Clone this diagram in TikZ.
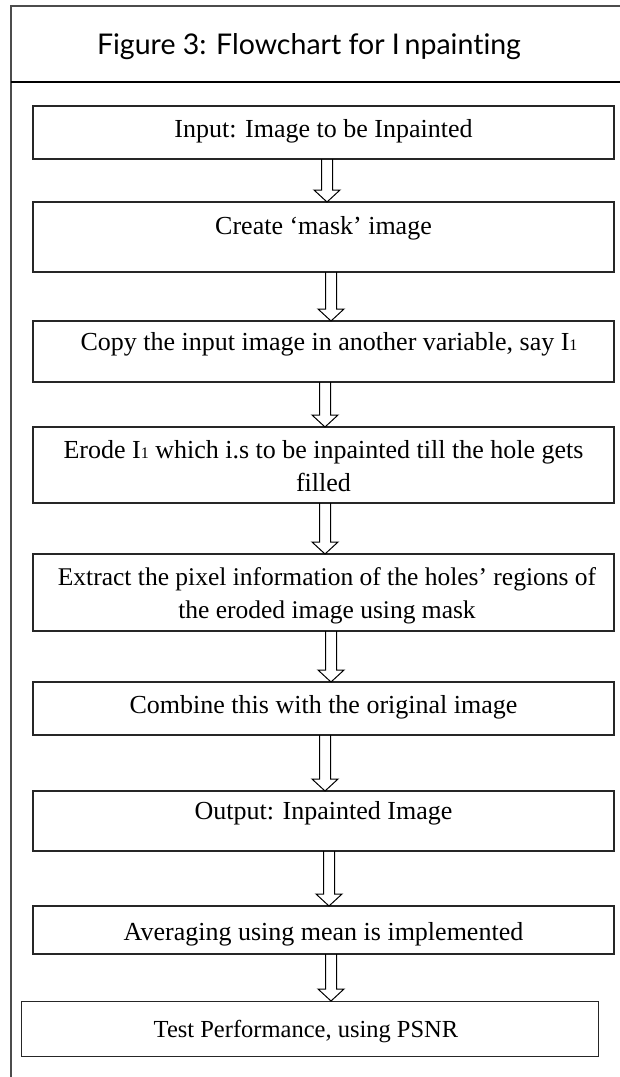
\documentclass[tikz,border=0pt]{standalone}
\usepackage{fontspec}
\setmainfont{Liberation Serif}
\newfontfamily\titlefont[Ligatures=NoCommon]{Lato}
\usetikzlibrary{calc}
\newcommand\flowarrow[3]{%
  \coordinate (fs) at ($(#1.south)+(#3,0)$);
  \coordinate (fe) at (fs |- #2.north);
  \draw[blockarrow] ($(fs)+(-5.5,0)$) -- ($(fe)+(-5.5,-12)$) -- ($(fe)+(-13,-12)$) -- (fe)
     -- ($(fe)+(13,-12)$) -- ($(fe)+(5.5,-12)$) -- ($(fs)+(5.5,0)$);}
\begin{document}
\begin{tikzpicture}[x=1pt,y=-1pt,
  box/.style={draw=black!85, line width=1.2pt, inner sep=0pt, outer sep=0pt},
  txt/.style={font=\fontsize{26}{33}\selectfont, align=center, inner sep=0pt},
  blockarrow/.style={draw=black, line width=1pt, line join=miter},
  frameline/.style={draw=black!70, line width=1.2pt}]
\useasboundingbox (0,0) rectangle (620,1077);
\fill[white] (0,0) rectangle (620,1077);
% frame
\draw[frameline] (620,6) -- (11,6) -- (11,1077);
\draw[black, line width=2pt] (11,82) -- (620,82);
\node[font=\titlefont\fontsize{28.5}{30}\selectfont, inner sep=0pt, anchor=base] (title) at (309,54) {Figure 3: Flowchart for I\,npainting};
% boxes
\node[box, minimum width=581, minimum height=53] (b1) at (323.5,132.5) {};
\node[box, minimum width=581, minimum height=70] (b2) at (323.5,237) {};
\node[box, minimum width=581, minimum height=61] (b3) at (323.5,351.5) {};
\node[box, minimum width=581, minimum height=76] (b4) at (323.5,465) {};
\node[box, minimum width=581, minimum height=77] (b5) at (323.5,592.5) {};
\node[box, minimum width=581, minimum height=53] (b6) at (323.5,708.5) {};
\node[box, minimum width=581, minimum height=60] (b7) at (323.5,821) {};
\node[box, minimum width=581, minimum height=48] (b8) at (323.5,930) {};
\node[box, minimum width=577, minimum height=55, line width=1pt] (b9) at (309.5,1028.5) {};
% texts
\node[txt, anchor=base] (t1) at (323.5,137) {Input: Image to be Inpainted};
\node[txt, anchor=base] (t2) at (323.5,234) {Create ‘mask’ image};
\node[txt, anchor=base] (t3) at (329,350) {Copy the input image in another variable, say I{\fontsize{16}{16}\selectfont 1}};
\node[txt, anchor=north] (t4) at (323.5,440) {Erode I{\fontsize{16}{16}\selectfont 1} which i.s to be inpainted till the hole gets\\filled};
\node[txt, anchor=north, font=\fontsize{25.5}{33}\selectfont] (t5) at (327,567) {Extract the pixel information of the holes’ regions of\\the eroded image using mask};
\node[txt, anchor=base] (t6) at (323.5,713) {Combine this with the original image};
\node[txt, anchor=base] (t7) at (323.5,819) {Output: Inpainted Image};
\node[txt, anchor=base] (t8) at (323.5,940) {Averaging using mean is implemented};
\node[txt, anchor=base, font=\fontsize{24.5}{30}\selectfont] (t9) at (306,1037) {Test Performance, using PSNR};
% arrows
\flowarrow{b1}{b2}{3.5}
\flowarrow{b2}{b3}{7.5}
\flowarrow{b3}{b4}{1.5}
\flowarrow{b4}{b5}{1.5}
\flowarrow{b5}{b6}{7.5}
\flowarrow{b6}{b7}{1.5}
\flowarrow{b7}{b8}{5.5}
\flowarrow{b8}{b9}{7.5}
\end{tikzpicture}
\end{document}
